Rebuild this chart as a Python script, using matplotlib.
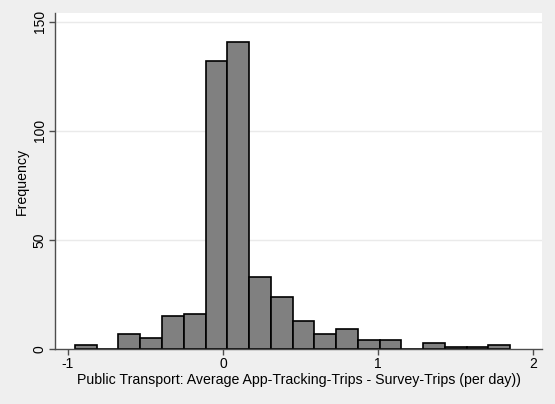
import numpy as np
import matplotlib
matplotlib.use("Agg")
import matplotlib.pyplot as plt

plt.rcParams["font.family"] = ["Liberation Sans", "DejaVu Sans"]

# histogram: 20 equal bins, frequencies
bin_start = -0.955
bin_width = 0.1403
counts = [2, 0, 7, 5, 15, 16, 132, 141, 33, 24, 13, 7, 9, 4, 4, 0, 3, 1, 1, 2]
x_ticks = [-1, 0, 1, 2]
y_ticks = [0, 50, 100, 150]
x_label = "Public Transport: Average App-Tracking-Trips - Survey-Trips (per day))"
y_label = "Frequency"

bg = "#efefef"
bar_color = "#808080"

edges = bin_start + bin_width * np.arange(len(counts) + 1)

fig = plt.figure(figsize=(5.55, 4.04), dpi=100, facecolor=bg)
ax = fig.add_axes([0.099, 0.136, 0.878, 0.832])
ax.set_facecolor("white")

for y in y_ticks[1:]:
    ax.axhline(y, color="#eaeaea", lw=1.0, zorder=0)

ax.bar(edges[:-1], counts, width=bin_width, align="edge",
       color=bar_color, edgecolor="black", linewidth=1.2, zorder=2)

ax.set_xlim(-1.084, 2.058)
ax.set_ylim(0, 154.1)
ax.set_xticks(x_ticks)
ax.set_xticklabels([str(t) for t in x_ticks])
ax.set_yticks(y_ticks)
ax.set_yticklabels([str(t) for t in y_ticks], rotation=90, va="center")

for side in ("top", "right"):
    ax.spines[side].set_visible(False)
for side in ("left", "bottom"):
    ax.spines[side].set_color("#4d4d4d")
    ax.spines[side].set_linewidth(1.0)

ax.tick_params(axis="both", direction="out", length=4, width=1.0,
               color="#4d4d4d", labelsize=10, labelcolor="black", pad=2)
ax.set_xlabel(x_label, fontsize=10.2, labelpad=1)
ax.set_ylabel(y_label, fontsize=10.2, labelpad=3)

fig.savefig("out.png", dpi=100, facecolor=bg)
